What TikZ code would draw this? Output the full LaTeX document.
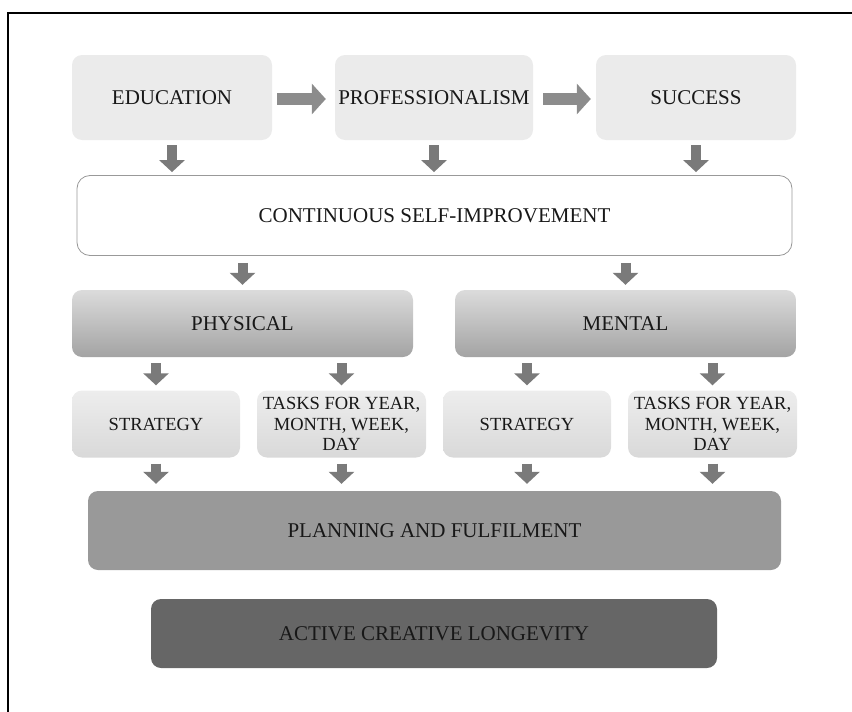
\documentclass[tikz,border=0pt]{standalone}
\usepackage{fontspec}
\setmainfont{Liberation Serif}
\usetikzlibrary{arrows.meta,calc}
\definecolor{txt}{HTML}{181818}
\tikzset{
  base/.style={rounded corners=10pt, inner sep=0pt, align=center, text=txt},
  bigtext/.style={font=\fontsize{21}{22}\selectfont},
  toprow/.style={base, bigtext, fill=black!8, minimum width=200pt, minimum height=85pt},
  contbox/.style={base, bigtext, rounded corners=13pt, fill=white, draw=black!40, line width=0.8pt, minimum width=715pt, minimum height=80pt},
  midbox/.style={base, bigtext, top color=black!14, bottom color=black!36, minimum width=341pt, minimum height=67pt},
  lowbox/.style={base, top color=black!7, bottom color=black!15, minimum width=168pt, minimum height=67pt, font=\fontsize{18.5}{20.5}\selectfont},
  planbox/.style={base, bigtext, fill=black!40, minimum width=693pt, minimum height=79pt},
  activebox/.style={base, bigtext, fill=black!60, minimum width=566pt, minimum height=69pt},
  downarr/.style={draw=black!52, line width=10pt, -{Triangle[width=25pt,length=12pt]}},
  rightarr/.style={draw=black!45, line width=12pt, -{Triangle[width=30pt,length=14pt]}},
}
\begin{document}
\begin{tikzpicture}[x=1pt,y=-1pt]
\useasboundingbox (0,0) rectangle (852,712);
\draw[line width=2pt] (8,712) -- (8,13) -- (852,13);

\node[toprow] (edu) at (172,97.5) {EDUCATION};
\node[toprow, minimum width=198pt] (prof) at (434,97.5) {PROFESSIONALISM};
\node[toprow] (succ) at (696,97.5) {SUCCESS};

\node[contbox] (cont) at (434.5,215.5) {CONTINUOUS SELF-IMPROVEMENT};

\node[midbox] (phys) at (242.5,323.5) {PHYSICAL};
\node[midbox] (ment) at (625.5,323.5) {MENTAL};

\node[lowbox] (str1) at (156,424) {STRATEGY};
\node[lowbox, minimum width=169pt] (tsk1) at (341.5,424) {TASKS FOR YEAR,\\MONTH, WEEK,\\DAY};
\node[lowbox] (str2) at (527,424) {STRATEGY};
\node[lowbox, minimum width=169pt] (tsk2) at (712.5,424) {TASKS FOR YEAR,\\MONTH, WEEK,\\DAY};

\node[planbox] (plan) at (434.5,530.5) {PLANNING AND FULFILMENT};
\node[activebox] (act) at (434,633.5) {ACTIVE CREATIVE LONGEVITY};

% horizontal arrows
\draw[rightarr] ($(edu.east)+(5,1.5)$) -- ($(prof.west)+(-9,1.5)$);
\draw[rightarr] ($(prof.east)+(10,1.5)$) -- ($(succ.west)+(-5,1.5)$);

% top row to continuous
\foreach \n in {edu,prof,succ}
  \draw[downarr] ($(\n.south)+(0,5)$) -- ($(\n.south |- cont.north)+(0,-3)$);

% continuous to physical / mental
\draw[downarr] ($(cont.south -| phys.north)+(0,7)$) -- ($(phys.north)+(0,-5)$);
\draw[downarr] ($(cont.south -| ment.north)+(0,7)$) -- ($(ment.north)+(0,-5)$);

% physical / mental to lower boxes
\draw[downarr] ($(phys.south -| str1.north)+(0,6)$) -- ($(str1.north)+(0,-5)$);
\draw[downarr] ($(phys.south -| tsk1.north)+(0,6)$) -- ($(tsk1.north)+(0,-5)$);
\draw[downarr] ($(ment.south -| str2.north)+(0,6)$) -- ($(str2.north)+(0,-5)$);
\draw[downarr] ($(ment.south -| tsk2.north)+(0,6)$) -- ($(tsk2.north)+(0,-5)$);

% lower boxes to planning
\foreach \n in {str1,tsk1,str2,tsk2}
  \draw[downarr] ($(\n.south)+(0,6)$) -- ($(\n.south |- plan.north)+(0,-7)$);
\end{tikzpicture}
\end{document}
